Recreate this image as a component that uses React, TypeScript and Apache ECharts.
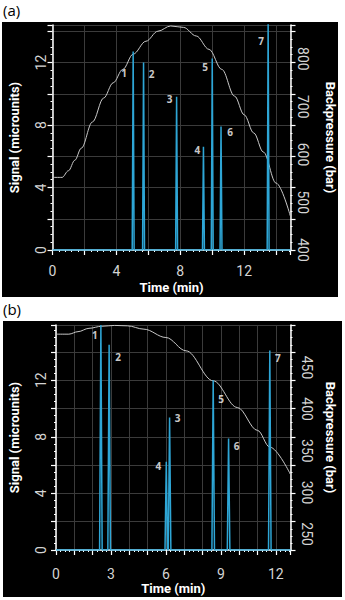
import React, { useEffect, useRef } from "react";
import * as echarts from "echarts";

// ---------- Panel (a) data ----------
const peakLabels = ["1", "2", "3", "4", "5", "6", "7"];
const peakTimeA = [5.05, 5.7, 7.77, 9.45, 10.0, 10.55, 13.5];
const peakSignalA = [12.7, 12.0, 9.8, 6.6, 12.25, 7.9, 14.6];
const pressureTimeA = [0, 0.6, 1.0, 1.4, 1.8, 2.5, 3.2, 3.8, 4.4, 5.05, 5.85, 6.6, 7.4, 8.2, 9.0, 9.8, 10.6, 11.4, 12.0, 12.6, 13.2, 14.0, 14.9];
const pressureBarA = [552, 552, 566, 588, 613, 668, 718, 750, 778, 810, 837, 858, 869, 866, 848, 820, 778, 722, 683, 645, 605, 540, 470];
const pressureTicksA = [400, 500, 600, 700, 800];

// ---------- Panel (b) data ----------
const peakTimeB = [2.45, 2.9, 6.2, 6.02, 8.58, 9.42, 11.67];
const peakSignalB = [15.9, 14.5, 9.36, 6.23, 12.0, 7.88, 14.1];
const pressureTimeB = [0, 0.7, 1.2, 1.8, 2.5, 3.2, 3.9, 4.8, 6.0, 7.1, 8.58, 9.9, 11.0, 11.67, 12.82];
const pressureBarB = [490, 490, 493, 497, 499.5, 500.5, 500, 496, 486, 470, 434, 402, 374.5, 354.5, 320.7];
const pressureTicksB = [250, 300, 350, 400, 450];

// ---------- label placement (style) ----------
const labelOffsetA = [[-9, 21], [8, 11], [-7, 2], [-6, 3], [-7, 8], [9, 5], [-7, 19]];
const labelOffsetB = [[-6, 10], [9, 12], [8, 0], [-8, 4], [8, 19], [8, 8], [8, 8]];

const PEAK_COLOR = "#2ea6d6";
const AXIS_COLOR = "#ffffff";
const LABEL_COLOR = "#d4d4d4";
const GRID_COLOR = "#3b3b3b";

function chromatogram(times: number[], heights: number[], hw: number, xMax: number) {
  const pk = times.map((t, i) => ({ t, h: heights[i] })).sort((a, b) => a.t - b.t);
  const pts: number[][] = [[0, 0]];
  pk.forEach((p) => {
    pts.push([p.t - hw, 0], [p.t, p.h], [p.t + hw, 0]);
  });
  pts.push([xMax, 0]);
  return pts;
}

const nameStyle = { color: "#ffffff", fontWeight: "bold", fontSize: 13, fontFamily: "Roboto" };
const numStyle = { color: LABEL_COLOR, fontSize: 14, fontFamily: "Roboto" };

function xAxisCfg(gridIndex: number, max: number, interval: number, labelStep: number, minorSplit: number, margin: number, nameGap: number) {
  return {
    type: "value",
    gridIndex,
    min: 0,
    max,
    interval,
    name: "Time (min)",
    nameLocation: "middle",
    nameGap,
    nameTextStyle: nameStyle,
    axisLine: { show: true, onZero: false, lineStyle: { color: AXIS_COLOR, width: 1.5 } },
    axisTick: { show: true, length: 5, lineStyle: { color: AXIS_COLOR, width: 1.2 } },
    minorTick: { show: true, splitNumber: minorSplit, length: 2, lineStyle: { color: AXIS_COLOR } },
    axisLabel: {
      ...numStyle,
      margin,
      formatter: (v: number) => (Math.abs(v % labelStep) < 1e-6 ? String(v) : ""),
    },
    splitLine: { show: true, lineStyle: { color: GRID_COLOR, width: 1 } },
  };
}

function signalAxisCfg(gridIndex: number, max: number, margin: number, nameGap: number) {
  return {
    type: "value",
    gridIndex,
    position: "left",
    min: 0,
    max,
    interval: 2,
    name: "Signal (microunits)",
    nameLocation: "middle",
    nameGap,
    nameRotate: 90,
    nameTextStyle: nameStyle,
    axisLine: { show: true, lineStyle: { color: AXIS_COLOR, width: 1.5 } },
    axisTick: { show: true, length: 5, lineStyle: { color: AXIS_COLOR, width: 1.2 } },
    minorTick: { show: true, splitNumber: 4, length: 2, lineStyle: { color: AXIS_COLOR } },
    axisLabel: {
      ...numStyle,
      rotate: 90,
      margin,
      formatter: (v: number) => (Math.abs(v % 4) < 1e-6 ? String(v) : ""),
    },
    splitLine: { show: true, lineStyle: { color: GRID_COLOR, width: 1 } },
  };
}

function pressureAxisCfg(gridIndex: number, min: number, max: number, ticks: number[], margin: number, nameGap: number) {
  return {
    type: "value",
    gridIndex,
    position: "right",
    min,
    max,
    name: "Backpressure (bar)",
    nameLocation: "middle",
    nameGap,
    nameRotate: -90,
    nameTextStyle: nameStyle,
    axisLine: { show: false },
    axisTick: { show: false },
    axisLabel: {
      ...numStyle,
      rotate: -90,
      margin,
      customValues: ticks,
    },
    splitLine: { show: false },
  };
}

function rightTickAxisCfg(gridIndex: number, max: number) {
  return {
    type: "value",
    gridIndex,
    position: "right",
    min: 0,
    max,
    interval: 2,
    axisLine: { show: true, lineStyle: { color: AXIS_COLOR, width: 1.5 } },
    axisTick: { show: true, length: 5, lineStyle: { color: AXIS_COLOR, width: 1.2 } },
    minorTick: { show: true, splitNumber: 4, length: 2, lineStyle: { color: AXIS_COLOR } },
    axisLabel: { show: false },
    splitLine: { show: false },
  };
}

function peakLabelSeries(xAxisIndex: number, yAxisIndex: number, times: number[], heights: number[], offsets: number[][]) {
  return {
    type: "scatter",
    xAxisIndex,
    yAxisIndex,
    clip: false,
    symbolSize: 1,
    itemStyle: { color: "rgba(0,0,0,0)" },
    silent: true,
    z: 5,
    data: times.map((t, i) => ({
      name: peakLabels[i],
      value: [t, heights[i]],
      label: { offset: offsets[i] },
    })),
    label: {
      show: true,
      position: "inside",
      formatter: "{b}",
      color: "#ffffff",
      fontWeight: "bold",
      fontSize: 10,
      fontFamily: "Open Sans",
    },
  };
}

const X_MAX_A = 14.9;
const X_MAX_B = 12.8;
const Y_MAX_A = 14.4;
const Y_MAX_B = 15.9;

const option = {
  animation: false,
  backgroundColor: "#ffffff",
  graphic: [
    { type: "rect", z: -100, shape: { x: 2, y: 22, width: 336, height: 275 }, style: { fill: "#000000" } },
    { type: "rect", z: -100, shape: { x: 3, y: 321, width: 339, height: 276 }, style: { fill: "#000000" } },
    { type: "text", x: 3, y: 2, style: { text: "(a)", fill: "#000000", fontSize: 15, fontFamily: "Open Sans", verticalAlign: "top", align: "left" } },
    { type: "text", x: 3, y: 301, style: { text: "(b)", fill: "#000000", fontSize: 15, fontFamily: "Open Sans", verticalAlign: "top", align: "left" } },
  ],
  grid: [
    { left: 48, top: 25, width: 242.5, height: 225, containLabel: false },
    { left: 53, top: 325, width: 242, height: 225, containLabel: false },
  ],
  xAxis: [
    xAxisCfg(0, X_MAX_A, 2, 4, 5, 14, 31),
    xAxisCfg(1, X_MAX_B, 1, 3, 4, 17, 31.5),
  ],
  yAxis: [
    signalAxisCfg(0, Y_MAX_A, 5, 31.5),
    pressureAxisCfg(0, 400, 871, pressureTicksA, 5, 33),
    rightTickAxisCfg(0, Y_MAX_A),
    signalAxisCfg(1, Y_MAX_B, 8, 35),
    pressureAxisCfg(1, 231, 501, pressureTicksB, 9, 33.5),
    rightTickAxisCfg(1, Y_MAX_B),
  ],
  series: [
    {
      type: "line",
      xAxisIndex: 0,
      yAxisIndex: 1,
      data: pressureTimeA.map((t, i) => [t, pressureBarA[i]]),
      smooth: 0.35,
      smoothMonotone: "x",
      showSymbol: false,
      lineStyle: { color: "#c8c8c8", width: 1 },
      z: 3,
    },
    {
      type: "line",
      xAxisIndex: 0,
      yAxisIndex: 0,
      data: chromatogram(peakTimeA, peakSignalA, 0.06, X_MAX_A),
      showSymbol: false,
      lineStyle: { color: PEAK_COLOR, width: 1.5 },
      z: 4,
    },
    peakLabelSeries(0, 0, peakTimeA, peakSignalA, labelOffsetA),
    {
      type: "line",
      xAxisIndex: 1,
      yAxisIndex: 4,
      data: pressureTimeB.map((t, i) => [t, pressureBarB[i]]),
      smooth: 0.35,
      smoothMonotone: "x",
      showSymbol: false,
      lineStyle: { color: "#c8c8c8", width: 1 },
      z: 3,
    },
    {
      type: "line",
      xAxisIndex: 1,
      yAxisIndex: 3,
      data: chromatogram(peakTimeB, peakSignalB, 0.07, X_MAX_B),
      showSymbol: false,
      lineStyle: { color: PEAK_COLOR, width: 1.5 },
      z: 4,
    },
    peakLabelSeries(1, 3, peakTimeB, peakSignalB, labelOffsetB),
  ],
};

export default function App() {
  const ref = useRef<HTMLDivElement>(null);
  useEffect(() => {
    if (!ref.current) return;
    const chart = echarts.init(ref.current, null, { renderer: "svg" });
    chart.setOption(option as any);
    return () => chart.dispose();
  }, []);
  return <div ref={ref} style={{ position: "absolute", left: 0, top: 0, width: 345, height: 600 }} />;
}
